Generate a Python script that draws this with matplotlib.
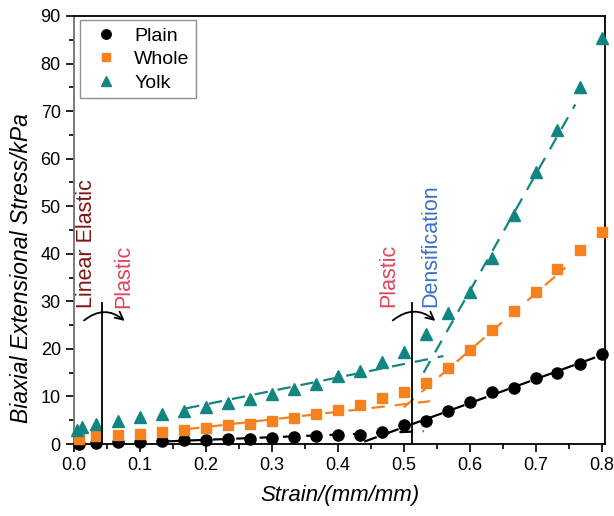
import matplotlib
matplotlib.use("Agg")
import matplotlib.pyplot as plt
from matplotlib.patches import FancyArrowPatch

plt.rcParams['font.family'] = ['Liberation Sans', 'DejaVu Sans']

# strain steps (mm/mm)
strain = [0.008, 0.033, 0.067, 0.100, 0.133, 0.167, 0.200, 0.233, 0.267, 0.300,
          0.333, 0.367, 0.400, 0.433, 0.467, 0.500, 0.533, 0.567, 0.600, 0.633,
          0.667, 0.700, 0.733, 0.767, 0.800]
strain_yolk = [0.004, 0.012] + strain[1:]

# biaxial extensional stress (kPa)
plain = [0.1, 0.2, 0.35, 0.5, 0.6, 0.75, 0.85, 1.0, 1.1, 1.3,
         1.5, 1.6, 1.8, 2.0, 2.6, 3.9, 4.9, 7.0, 8.9, 10.9,
         11.8, 13.9, 14.9, 16.8, 18.9]
whole = [1.0, 1.7, 2.0, 2.2, 2.6, 2.9, 3.3, 3.9, 4.3, 4.9,
         5.4, 6.3, 7.1, 8.2, 9.6, 11.0, 12.9, 15.9, 19.8, 24.0,
         28.0, 31.9, 36.8, 40.8, 44.6]
yolk = [3.0, 3.6, 4.3, 4.9, 5.6, 6.3, 7.0, 7.7, 8.7, 9.5,
        10.5, 11.6, 12.6, 14.2, 15.4, 17.3, 19.4, 23.1, 27.5, 32.0,
        39.2, 48.1, 57.3, 66.0, 75.1, 85.3]

# linear fits: plastic and densification regions (x0, x1, y0, y1)
fit_plain = [(0.14, 0.53, 0.55, 2.7), (0.44, 0.79, 0.5, 18.2)]
fit_whole = [(0.17, 0.54, 3.1, 9.0), (0.50, 0.745, 7.7, 37.1)]
fit_yolk = [(0.17, 0.56, 7.5, 18.5), (0.53, 0.76, 15.0, 71.4)]

# region boundaries
bounds = [0.043, 0.512]
bound_top = 29.6

c_plain = 'black'
c_whole = '#F5821F'
c_yolk = '#138580'

fig = plt.figure(figsize=(6.14, 5.16), dpi=100)
ax = fig.add_axes([0.1205, 0.1395, 0.8648, 0.8295])

for fits, c in [(fit_plain, c_plain), (fit_whole, c_whole), (fit_yolk, c_yolk)]:
    for x0, x1, y0, y1 in fits:
        ax.plot([x0, x1], [y0, y1], color=c, lw=1.6, ls=(0, (6, 4.5)), zorder=2)

ax.plot(strain, plain, 'o', color=c_plain, ms=8, label='Plain', zorder=3, clip_on=False)
ax.plot(strain, whole, 's', color=c_whole, ms=7.5, label='Whole', zorder=3, clip_on=False)
ax.plot(strain_yolk, yolk, '^', color=c_yolk, ms=9, label='Yolk', zorder=3, clip_on=False)

for b in bounds:
    ax.plot([b, b], [0, bound_top], color='black', lw=1.3, zorder=4)

# curved arrows over the boundaries
for xa, xb in [(0.012, 0.080), (0.480, 0.551)]:
    arr = FancyArrowPatch((xa, 25.6), (xb, 25.5), connectionstyle='arc3,rad=-0.45',
                          arrowstyle='->', mutation_scale=14, lw=1.3, color='black', zorder=5)
    ax.add_patch(arr)

ax.text(0.019, 28.6, 'Linear Elastic', rotation=90, ha='center', va='bottom',
        color='#7E1414', fontsize=15.5)
ax.text(0.075, 28.6, 'Plastic', rotation=90, ha='center', va='bottom',
        color='#E0455A', fontsize=15.5)
ax.text(0.477, 28.9, 'Plastic', rotation=90, ha='center', va='bottom',
        color='#E0455A', fontsize=15.5)
ax.text(0.541, 28.9, 'Densification', rotation=90, ha='center', va='bottom',
        color='#3D6FC4', fontsize=15.5)

ax.set_xlim(0, 0.805)
ax.set_ylim(0, 90)
ax.set_xticks([0.0, 0.1, 0.2, 0.3, 0.4, 0.5, 0.6, 0.7, 0.8])
ax.set_xticks([0.05, 0.15, 0.25, 0.35, 0.45, 0.55, 0.65, 0.75], minor=True)
ax.set_yticks(range(0, 91, 10))
ax.set_yticks(range(5, 90, 10), minor=True)
ax.tick_params(which='major', direction='out', length=6, width=1.2, labelsize=13)
ax.tick_params(which='minor', direction='out', length=3.5, width=1.2)
for s in ax.spines.values():
    s.set_linewidth(1.3)
ax.spines['left'].set_color('#707070')

ax.set_xlabel('Strain/(mm/mm)', fontsize=16, style='italic', labelpad=8)
ax.set_ylabel('Biaxial Extensional Stress/kPa', fontsize=16.5, style='italic')
ax.yaxis.set_label_coords(-0.078, 0.41)

leg = ax.legend(loc='upper left', bbox_to_anchor=(0.011, 0.99), borderaxespad=0,
                fontsize=14, frameon=True, fancybox=False, framealpha=1,
                edgecolor='#909090', handlelength=2.0, handletextpad=0.45,
                labelspacing=0.3, borderpad=0.35, markerscale=0.85)
leg.get_frame().set_linewidth(1.0)

fig.savefig('out.png', dpi=100)
